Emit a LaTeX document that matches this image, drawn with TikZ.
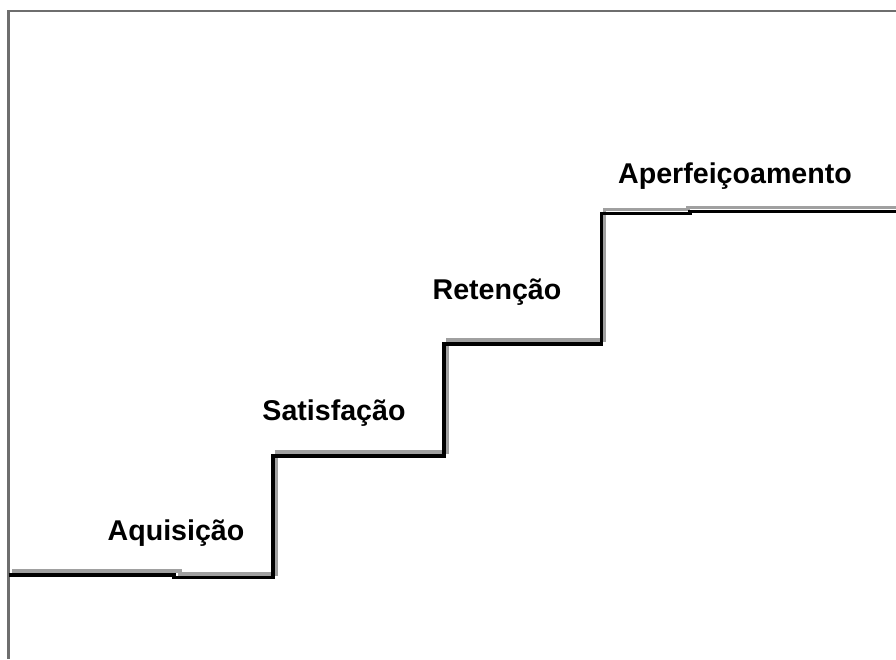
\documentclass[tikz,border=0pt]{standalone}
\usepackage{fontspec}
\setmainfont{Liberation Sans}
\usepackage{xcolor}
\definecolor{shadowgray}{HTML}{A0A0A0}
\definecolor{framegray}{HTML}{6E6E6E}

\begin{document}
\begin{tikzpicture}[x=1pt, y=-1pt,
    stage/.style={anchor=base, font=\fontsize{28.6}{34}\selectfont\bfseries}]
            \useasboundingbox (0, 0) rectangle (896, 659);
            % frame
            \draw[framegray, line width=2.4] (896, 11) -- (8.5, 11) -- (8.5, 659);
            % shadow of the steps
            \draw[shadowgray, line width=3.2]
              (12, 571) -- (180, 571) -- (180, 574)
              -- (276.5, 574) -- (276.5, 452)
              -- (447.5, 452) -- (447.5, 340)
              -- (604.5, 340) -- (604.5, 209.5)
              -- (688, 209.5) -- (688, 207.5) -- (896, 207.5);
            % steps
            \draw[black, line width=3.2, line join=miter]
              (8.5, 575) -- (174, 575) -- (174, 577.5)
              -- (273, 577.5) -- (273, 456)
              -- (444, 456) -- (444, 344)
              -- (601.5, 344) -- (601.5, 213.5)
              -- (690, 213.5) -- (690, 211.5) -- (896, 211.5);
            \node[stage] (aquisicao) at (176, 540) {Aquisição};
            \node[stage] (satisfacao) at (334, 420) {Satisfação};
            \node[stage] (retencao) at (497, 299) {Retenção};
            \node[stage] (aperfeicoamento) at (735, 183) {Aperfeiçoamento};
        \end{tikzpicture}
\end{document}
